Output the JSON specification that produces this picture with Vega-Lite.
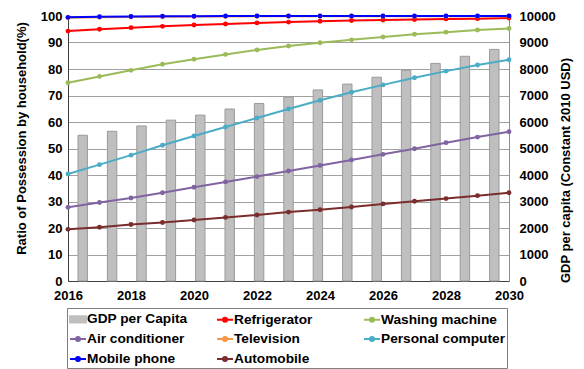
{
  "$schema": "https://vega.github.io/schema/vega-lite/v6.json",
  "width": 441,
  "height": 265,
  "autosize": {"type": "none"},
  "padding": {"left": 68, "top": 16, "right": 75, "bottom": 88},
  "background": "white",
  "config": {
    "font": "Liberation Sans",
    "view": {"stroke": null},
    "axis": {"labelFont": "Liberation Sans", "labelFontSize": 13, "labelFontWeight": "bold", "labelColor": "#000", "titleFont": "Liberation Sans", "titleFontSize": 13, "titleFontWeight": "bold", "titleColor": "#000", "ticks": false}
  },
  "datasets": {
    "gdp": [
      {"idx": 1, "series": "GDP per Capita", "gdp": 5500},
      {"idx": 2, "series": "GDP per Capita", "gdp": 5650},
      {"idx": 3, "series": "GDP per Capita", "gdp": 5850},
      {"idx": 4, "series": "GDP per Capita", "gdp": 6070},
      {"idx": 5, "series": "GDP per Capita", "gdp": 6260},
      {"idx": 6, "series": "GDP per Capita", "gdp": 6490},
      {"idx": 7, "series": "GDP per Capita", "gdp": 6700},
      {"idx": 8, "series": "GDP per Capita", "gdp": 6940},
      {"idx": 9, "series": "GDP per Capita", "gdp": 7210},
      {"idx": 10, "series": "GDP per Capita", "gdp": 7430},
      {"idx": 11, "series": "GDP per Capita", "gdp": 7690},
      {"idx": 12, "series": "GDP per Capita", "gdp": 7950},
      {"idx": 13, "series": "GDP per Capita", "gdp": 8210},
      {"idx": 14, "series": "GDP per Capita", "gdp": 8480},
      {"idx": 15, "series": "GDP per Capita", "gdp": 8740}
    ],
    "lines": [
      {"year": 2016, "series": "Automobile", "v": 19.5},
      {"year": 2017, "series": "Automobile", "v": 20.3},
      {"year": 2018, "series": "Automobile", "v": 21.3},
      {"year": 2019, "series": "Automobile", "v": 22.1},
      {"year": 2020, "series": "Automobile", "v": 23.0},
      {"year": 2021, "series": "Automobile", "v": 24.0},
      {"year": 2022, "series": "Automobile", "v": 24.9},
      {"year": 2023, "series": "Automobile", "v": 26.0},
      {"year": 2024, "series": "Automobile", "v": 26.9},
      {"year": 2025, "series": "Automobile", "v": 27.9},
      {"year": 2026, "series": "Automobile", "v": 29.1},
      {"year": 2027, "series": "Automobile", "v": 30.1},
      {"year": 2028, "series": "Automobile", "v": 31.1},
      {"year": 2029, "series": "Automobile", "v": 32.2},
      {"year": 2030, "series": "Automobile", "v": 33.3},
      {"year": 2016, "series": "Air conditioner", "v": 27.8},
      {"year": 2017, "series": "Air conditioner", "v": 29.6},
      {"year": 2018, "series": "Air conditioner", "v": 31.3},
      {"year": 2019, "series": "Air conditioner", "v": 33.3},
      {"year": 2020, "series": "Air conditioner", "v": 35.4},
      {"year": 2021, "series": "Air conditioner", "v": 37.4},
      {"year": 2022, "series": "Air conditioner", "v": 39.4},
      {"year": 2023, "series": "Air conditioner", "v": 41.5},
      {"year": 2024, "series": "Air conditioner", "v": 43.6},
      {"year": 2025, "series": "Air conditioner", "v": 45.7},
      {"year": 2026, "series": "Air conditioner", "v": 47.8},
      {"year": 2027, "series": "Air conditioner", "v": 49.9},
      {"year": 2028, "series": "Air conditioner", "v": 52.2},
      {"year": 2029, "series": "Air conditioner", "v": 54.3},
      {"year": 2030, "series": "Air conditioner", "v": 56.3},
      {"year": 2016, "series": "Personal computer", "v": 40.4},
      {"year": 2017, "series": "Personal computer", "v": 43.9},
      {"year": 2018, "series": "Personal computer", "v": 47.5},
      {"year": 2019, "series": "Personal computer", "v": 51.2},
      {"year": 2020, "series": "Personal computer", "v": 54.7},
      {"year": 2021, "series": "Personal computer", "v": 58.1},
      {"year": 2022, "series": "Personal computer", "v": 61.5},
      {"year": 2023, "series": "Personal computer", "v": 64.9},
      {"year": 2024, "series": "Personal computer", "v": 68.2},
      {"year": 2025, "series": "Personal computer", "v": 71.2},
      {"year": 2026, "series": "Personal computer", "v": 74.0},
      {"year": 2027, "series": "Personal computer", "v": 76.7},
      {"year": 2028, "series": "Personal computer", "v": 79.2},
      {"year": 2029, "series": "Personal computer", "v": 81.5},
      {"year": 2030, "series": "Personal computer", "v": 83.5},
      {"year": 2016, "series": "Washing machine", "v": 74.8},
      {"year": 2017, "series": "Washing machine", "v": 77.2},
      {"year": 2018, "series": "Washing machine", "v": 79.5},
      {"year": 2019, "series": "Washing machine", "v": 81.8},
      {"year": 2020, "series": "Washing machine", "v": 83.7},
      {"year": 2021, "series": "Washing machine", "v": 85.5},
      {"year": 2022, "series": "Washing machine", "v": 87.2},
      {"year": 2023, "series": "Washing machine", "v": 88.7},
      {"year": 2024, "series": "Washing machine", "v": 89.9},
      {"year": 2025, "series": "Washing machine", "v": 91.0},
      {"year": 2026, "series": "Washing machine", "v": 92.1},
      {"year": 2027, "series": "Washing machine", "v": 93.1},
      {"year": 2028, "series": "Washing machine", "v": 93.9},
      {"year": 2029, "series": "Washing machine", "v": 94.7},
      {"year": 2030, "series": "Washing machine", "v": 95.3},
      {"year": 2016, "series": "Refrigerator", "v": 94.3},
      {"year": 2017, "series": "Refrigerator", "v": 95.0},
      {"year": 2018, "series": "Refrigerator", "v": 95.6},
      {"year": 2019, "series": "Refrigerator", "v": 96.1},
      {"year": 2020, "series": "Refrigerator", "v": 96.6},
      {"year": 2021, "series": "Refrigerator", "v": 97.0},
      {"year": 2022, "series": "Refrigerator", "v": 97.4},
      {"year": 2023, "series": "Refrigerator", "v": 97.7},
      {"year": 2024, "series": "Refrigerator", "v": 98.0},
      {"year": 2025, "series": "Refrigerator", "v": 98.3},
      {"year": 2026, "series": "Refrigerator", "v": 98.5},
      {"year": 2027, "series": "Refrigerator", "v": 98.7},
      {"year": 2028, "series": "Refrigerator", "v": 98.9},
      {"year": 2029, "series": "Refrigerator", "v": 99.0},
      {"year": 2030, "series": "Refrigerator", "v": 99.2},
      {"year": 2016, "series": "Television", "v": 99.3},
      {"year": 2017, "series": "Television", "v": 99.5},
      {"year": 2018, "series": "Television", "v": 99.6},
      {"year": 2019, "series": "Television", "v": 99.7},
      {"year": 2020, "series": "Television", "v": 99.8},
      {"year": 2021, "series": "Television", "v": 99.8},
      {"year": 2022, "series": "Television", "v": 99.9},
      {"year": 2023, "series": "Television", "v": 99.9},
      {"year": 2024, "series": "Television", "v": 99.9},
      {"year": 2025, "series": "Television", "v": 99.9},
      {"year": 2026, "series": "Television", "v": 99.9},
      {"year": 2027, "series": "Television", "v": 99.9},
      {"year": 2028, "series": "Television", "v": 99.9},
      {"year": 2029, "series": "Television", "v": 99.9},
      {"year": 2030, "series": "Television", "v": 99.9},
      {"year": 2016, "series": "Mobile phone", "v": 99.5},
      {"year": 2017, "series": "Mobile phone", "v": 99.7},
      {"year": 2018, "series": "Mobile phone", "v": 99.8},
      {"year": 2019, "series": "Mobile phone", "v": 99.9},
      {"year": 2020, "series": "Mobile phone", "v": 99.9},
      {"year": 2021, "series": "Mobile phone", "v": 100},
      {"year": 2022, "series": "Mobile phone", "v": 100},
      {"year": 2023, "series": "Mobile phone", "v": 100},
      {"year": 2024, "series": "Mobile phone", "v": 100},
      {"year": 2025, "series": "Mobile phone", "v": 100},
      {"year": 2026, "series": "Mobile phone", "v": 100},
      {"year": 2027, "series": "Mobile phone", "v": 100},
      {"year": 2028, "series": "Mobile phone", "v": 100},
      {"year": 2029, "series": "Mobile phone", "v": 100},
      {"year": 2030, "series": "Mobile phone", "v": 100}
    ]
  },
  "layer": [
    {
      "data": {"name": "gdp"},
      "mark": {"type": "bar", "stroke": "#9a9a9a", "strokeWidth": 1},
      "encoding": {
        "x": {"field": "idx", "type": "ordinal", "axis": null, "scale": {"paddingInner": 0.68, "paddingOuter": 0.34}},
        "y": {"field": "gdp", "type": "quantitative", "scale": {"domain": [0, 10000]},
          "axis": {"orient": "right", "title": "GDP per capita (Constant 2010 USD)", "values": [0,1000,2000,3000,4000,5000,6000,7000,8000,9000,10000], "format": "d", "grid": false, "domainColor": "#8c8c8c", "labelPadding": 10, "titleAngle": 270, "titleX": 63, "titleY": 154}},
        "color": {"field": "series", "type": "nominal"}
      }
    },
    {
      "data": {"name": "lines"},
      "mark": {"type": "line", "strokeWidth": 2, "point": {"filled": true, "size": 24}},
      "encoding": {
        "x": {"field": "year", "type": "quantitative", "scale": {"domain": [2016, 2030], "nice": false, "zero": false},
          "axis": {"title": null, "values": [2016,2018,2020,2022,2024,2026,2028,2030], "format": "d", "grid": false, "domainColor": "#404040", "labelPadding": 8, "labelFlush": false}},
        "y": {"field": "v", "type": "quantitative", "scale": {"domain": [0, 100]},
          "axis": {"title": "Ratio of Possession by household(%)", "values": [0,10,20,30,40,50,60,70,80,90,100], "grid": true, "gridColor": "#a0a0a0", "domainColor": "#404040", "labelPadding": 6, "titleX": -40, "titleY": 122}},
        "color": {
          "field": "series", "type": "nominal",
          "scale": {
            "domain": ["GDP per Capita", "Refrigerator", "Washing machine", "Air conditioner", "Television", "Personal computer", "Mobile phone", "Automobile"],
            "range": ["#bfbfbf", "#ff0000", "#9bbb59", "#8064a2", "#f79646", "#4bacc6", "#0000ff", "#7b2c2c"]
          },
          "legend": {
            "title": null, "orient": "none", "legendX": -1, "legendY": 292, "direction": "horizontal",
            "columns": 3, "gridAlign": "all", "columnPadding": 2, "rowPadding": 3,
            "padding": 2, "strokeColor": "#7f7f7f",
            "labelFont": "Liberation Sans", "labelFontSize": 13.7, "labelFontWeight": "bold", "labelColor": "#000", "labelOffset": 0, "labelLimit": 200,
            "symbolSize": 256,
            "encode": {
              "symbols": {
                "update": {
                  "shape": {"signal": "datum.value === 'GDP per Capita' ? 'M-1,-0.4H1V0.4H-1Z' : 'M-1,0H1M-0.25,0A0.25,0.25,0,1,1,0.25,0A0.25,0.25,0,1,1,-0.25,0'"},
                  "fill": {"scale": "color", "field": "value"},
                  "stroke": {"signal": "datum.value === 'GDP per Capita' ? '#9a9a9a' : scale('color', datum.value)"},
                  "strokeWidth": {"value": 2},
                  "opacity": {"value": 1}
                }
              }
            }
          }
        }
      }
    }
  ],
  "resolve": {"scale": {"x": "independent", "y": "independent"}}
}
